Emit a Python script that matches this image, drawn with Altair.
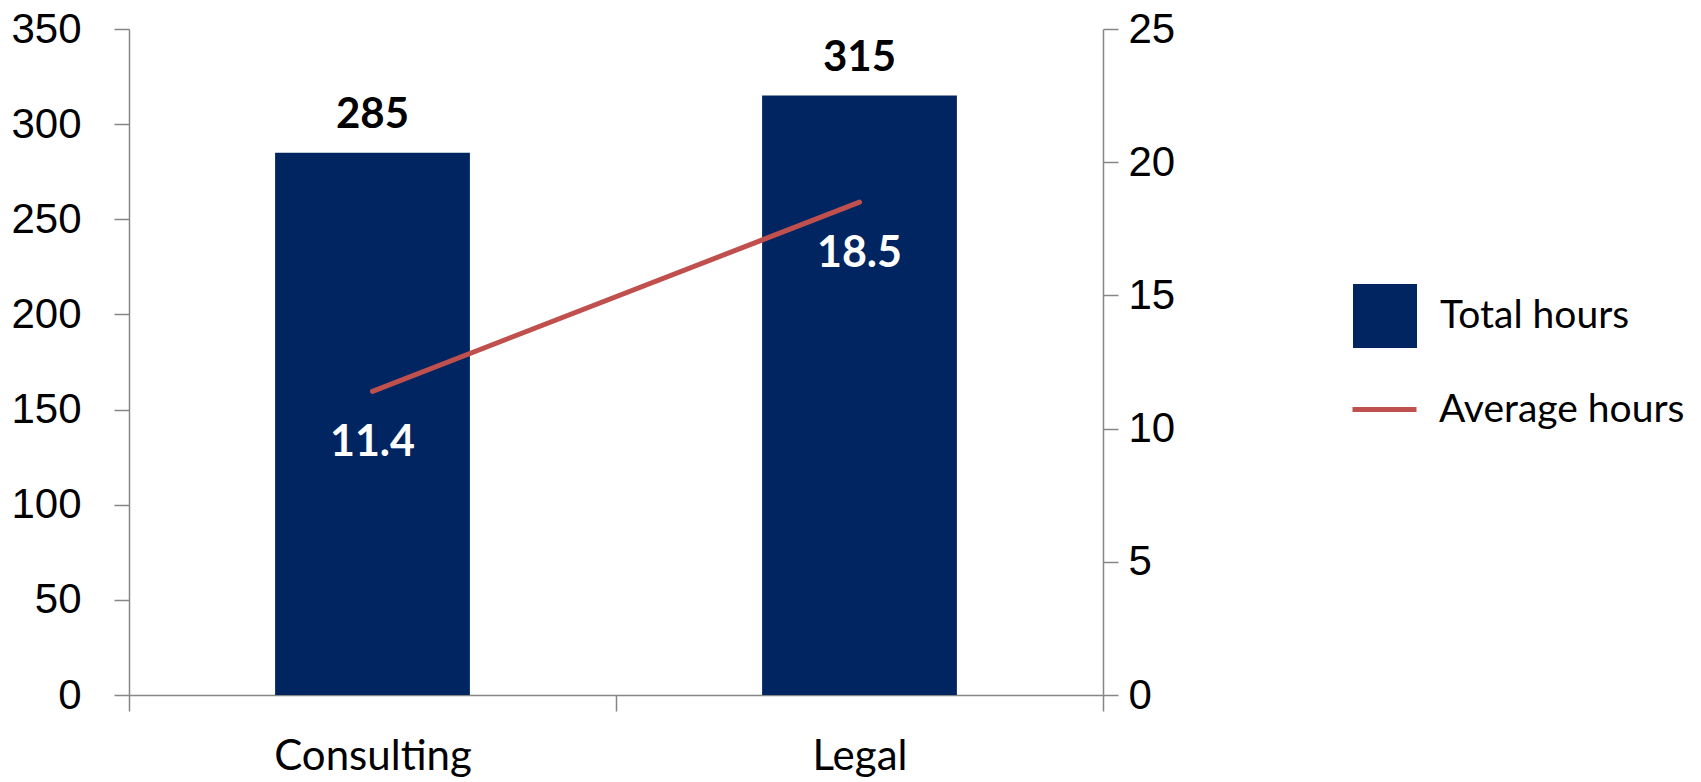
import altair as alt
import pandas as pd

categories = ["Consulting", "Legal"]
total_hours = [285, 315]
average_hours = [11.4, 18.5]
bar_series = ["Total hours", "Total hours"]
line_series = ["Average hours", "Average hours"]
left_ticks = [0, 50, 100, 150, 200, 250, 300, 350]
right_ticks = [0, 5, 10, 15, 20, 25]

df = pd.DataFrame({
    "category": categories,
    "total": total_hours,
    "avg": average_hours,
    "bar_series": bar_series,
    "line_series": line_series,
})

W, H = 974, 666
GREY = "#868686"

x = alt.X(
    "category:N", sort=categories,
    scale=alt.Scale(paddingInner=0, paddingOuter=0),
    axis=alt.Axis(title=None, tickBand="extent", labelAngle=0, labelFont="Lato",
                  labelFontSize=42, labelColor="black", labelPadding=25, tickSize=16,
                  labelLimit=600, domainColor=GREY, tickColor=GREY, domainWidth=1.5,
                  tickWidth=1.5, grid=False),
)

y_left = alt.Y(
    "total:Q",
    scale=alt.Scale(domain=[0, 350], nice=False),
    axis=alt.Axis(title=None, orient="left", values=left_ticks, labelFont="Liberation Sans",
                  labelFontSize=42, labelColor="black", labelPadding=33, tickSize=15,
                  domainColor=GREY, tickColor=GREY, domainWidth=1.5, tickWidth=1.5,
                  grid=False),
)
y_right = alt.Y(
    "avg:Q",
    scale=alt.Scale(domain=[0, 25], nice=False),
    axis=alt.Axis(title=None, orient="right", values=right_ticks, labelFont="Liberation Sans",
                  labelFontSize=42, labelColor="black", labelPadding=10, tickSize=15,
                  domainColor=GREY, tickColor=GREY, domainWidth=1.5, tickWidth=1.5,
                  grid=False),
)

base = alt.Chart(df)

bars = base.mark_bar(width=alt.RelativeBandSize(0.4)).encode(
    x=x,
    y=y_left,
    fill=alt.Fill("bar_series:N", scale=alt.Scale(range=["#002561"]),
                  legend=alt.Legend(orient="none", legendX=1224, legendY=255, title=None,
                                    symbolType="square", symbolSize=4096,
                                    symbolStrokeWidth=0, labelFont="Lato",
                                    labelFontSize=39, labelColor="black", labelOffset=23,
                                    labelLimit=500, padding=0)),
)
bar_text = base.mark_text(dy=-25, baseline="alphabetic", font="Lato", fontWeight="bold",
                          fontSize=42, color="black").encode(
    x=x,
    y=y_left,
    text=alt.Text("total:Q"),
)

line = base.mark_line(strokeWidth=5, strokeCap="round").encode(
    x=x,
    y=y_right,
    stroke=alt.Stroke("line_series:N", scale=alt.Scale(range=["#C0504D"]),
                      legend=alt.Legend(orient="none", legendX=1221, legendY=346, title=None,
                                        symbolType="stroke", symbolSize=4096,
                                        symbolStrokeWidth=5, labelFont="Lato",
                                        labelFontSize=39, labelColor="black",
                                        labelOffset=20, labelLimit=500, padding=0)),
)
line_text = base.mark_text(dy=65, baseline="alphabetic", font="Lato", fontWeight="bold",
                           fontSize=43, color="white").encode(
    x=x,
    y=y_right,
    text=alt.Text("avg:Q", format=".1f"),
)

left = alt.layer(bars, bar_text)
right = alt.layer(line, line_text)

chart = alt.layer(left, right).resolve_scale(y="independent").properties(
    width=W, height=H,
    autosize=alt.AutoSizeParams(type="none"),
    padding={"left": 129, "top": 29, "right": 598, "bottom": 87},
    background="white",
).configure_view(stroke=None)

chart.save("out.html", embed_options={"renderer": "svg", "actions": False})
